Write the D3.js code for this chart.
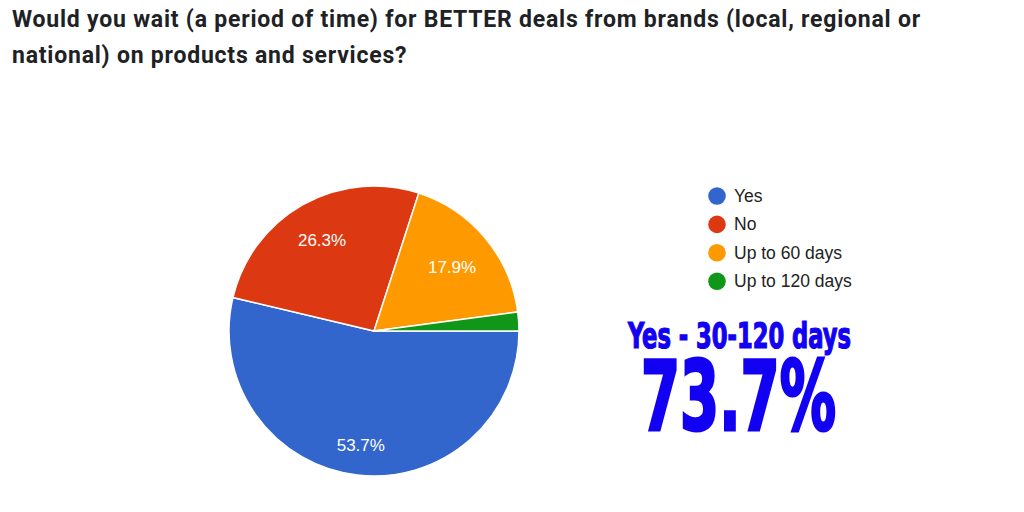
<!doctype html>
<html>
<head>
  <script src="https://cdnjs.cloudflare.com/ajax/libs/d3/7.8.5/d3.min.js"></script>
  <style>
    body { margin: 0; background: #fff; }
    svg { display: block; }
  </style>
</head>
<body>
<svg id="chart" width="1024" height="512"></svg>
<script>
  // data
  var titleLines = [
    "Would you wait (a period of time) for BETTER deals from brands (local, regional or",
    "national) on products and services?"
  ];
  var categories = ["Yes", "No", "Up to 60 days", "Up to 120 days"];
  var percents = [53.7, 26.3, 17.9, 2.1];
  var colors = ["#3366cc", "#dc3912", "#ff9900", "#109618"];
  var callout = ["Yes - 30-120 days", "73.7%"];

  var svg = d3.select("#chart");

  // title
  svg.append("g").selectAll("text")
    .data(titleLines)
    .enter().append("text")
    .attr("x", 12)
    .attr("y", function(d, i) { return 27 + i * 36; })
    .attr("font-family", "Roboto, sans-serif")
    .attr("font-weight", 700)
    .attr("font-size", 23)
    .attr("letter-spacing", 0.78)
    .attr("fill", "#202124")
    .text(function(d) { return d; });

  // pie
  var cx = 374, cy = 331, R = 145;
  var rows = categories.map(function(c, i) { return {name: c, value: percents[i], color: colors[i]}; });

  var pie = d3.pie()
    .sort(null)
    .value(function(d) { return d.value; })
    .startAngle(Math.PI / 2)
    .endAngle(Math.PI / 2 + 2 * Math.PI);
  var arc = d3.arc().innerRadius(0).outerRadius(R);
  var arcs = pie(rows);

  var g = svg.append("g").attr("transform", "translate(" + cx + "," + cy + ")");
  g.selectAll("path")
    .data(arcs)
    .enter().append("path")
    .attr("d", arc)
    .attr("fill", function(d) { return d.data.color; })
    .attr("stroke", "#fff")
    .attr("stroke-width", 1.5);

  // slice labels, placed so the text box sits just inside the rim
  var fmt = function(v) { return v.toFixed(1) + "%"; };
  g.selectAll("text.lbl")
    .data(arcs.filter(function(d) { return d.data.value > 5; }))
    .enter().append("text")
    .attr("class", "lbl")
    .attr("font-family", "'Liberation Sans', Arial, sans-serif")
    .attr("font-size", 17)
    .attr("fill", "#fff")
    .attr("text-anchor", "middle")
    .text(function(d) { return fmt(d.data.value); })
    .each(function(d) {
      var bb = this.getBBox();
      var a = (d.startAngle + d.endAngle) / 2;
      var sx = Math.sin(a), sy = -Math.cos(a);
      var r = 0.87 * R - (bb.width / 2 * Math.abs(sx) + bb.height / 2 * Math.abs(sy));
      d3.select(this)
        .attr("x", r * sx)
        .attr("y", r * sy + 7);
    });

  // legend
  var leg = svg.append("g").attr("transform", "translate(717,196)");
  var item = leg.selectAll("g")
    .data(rows)
    .enter().append("g")
    .attr("transform", function(d, i) { return "translate(0," + (i * 28.4) + ")"; });
  item.append("circle")
    .attr("r", 8.8)
    .attr("fill", function(d) { return d.color; });
  item.append("text")
    .attr("x", 17)
    .attr("y", 6)
    .attr("font-family", "'Liberation Sans', Arial, sans-serif")
    .attr("font-size", 17.5)
    .attr("fill", "#222")
    .text(function(d) { return d.name; });

  // big callout
  var bigFont = "'Liberation Sans Narrow', 'DejaVu Sans Condensed', 'Liberation Sans', sans-serif";
  svg.append("text")
    .attr("x", 628).attr("y", 348)
    .attr("font-family", bigFont)
    .attr("font-weight", 700)
    .attr("font-size", 35)
    .attr("fill", "#1200f2")
    .attr("stroke", "#1200f2")
    .attr("stroke-width", 1.2)
    .attr("textLength", 223)
    .attr("lengthAdjust", "spacingAndGlyphs")
    .text(callout[0]);
  svg.append("text")
    .attr("x", 641).attr("y", 430)
    .attr("font-family", bigFont)
    .attr("font-weight", 700)
    .attr("font-size", 96)
    .attr("fill", "#1200f2")
    .attr("stroke", "#1200f2")
    .attr("stroke-width", 3)
    .attr("textLength", 195)
    .attr("lengthAdjust", "spacingAndGlyphs")
    .text(callout[1]);
</script>
</body>
</html>
